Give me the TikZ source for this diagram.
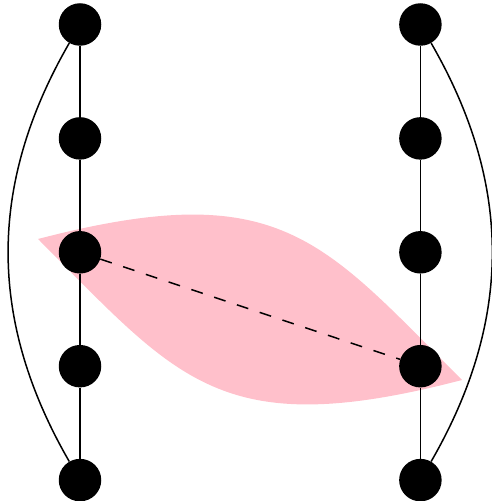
\documentclass[tikz,border=0pt]{standalone}
\usetikzlibrary{positioning}
\definecolor{lenspink}{RGB}{255,192,203}

\begin{document}
\begin{tikzpicture}[
  x=1pt, y=1pt,
  node distance=71pt,
  dot/.style={circle, fill=black, inner sep=0pt, minimum size=42.5pt},
  link/.style={line width=1.5pt},
  lens/.style={fill=lenspink}
]
\useasboundingbox (0,0) rectangle (492,501);

% lens behind everything
\fill[lens] (38,262) .. controls (280,325) and (321,262) .. (462,121)
  .. controls (220,58) and (179,121) .. cycle;

\node[dot] (l1) at (80,476.5) {};
\node[dot] (l2) [below=of l1] {};
\node[dot] (l3) [below=of l2] {};
\node[dot] (l4) [below=of l3] {};
\node[dot] (l5) [below=of l4] {};
\node[dot] (r1) [right=297.5pt of l1] {};
\node[dot] (r2) [below=of r1] {};
\node[dot] (r3) [below=of r2] {};
\node[dot] (r4) [below=of r3] {};
\node[dot] (r5) [below=of r4] {};

\draw[link] (l1) -- (l2) -- (l3) -- (l4) -- (l5);
\draw[link] (r1) -- (r2) -- (r3) -- (r4) -- (r5);
\draw[link] (l1) to[bend right=30] (l5);
\draw[link] (r1) to[bend left=30] (r5);
\draw[link, dash pattern=on 12pt off 12pt] (l3) -- (r4);
\end{tikzpicture}
\end{document}
